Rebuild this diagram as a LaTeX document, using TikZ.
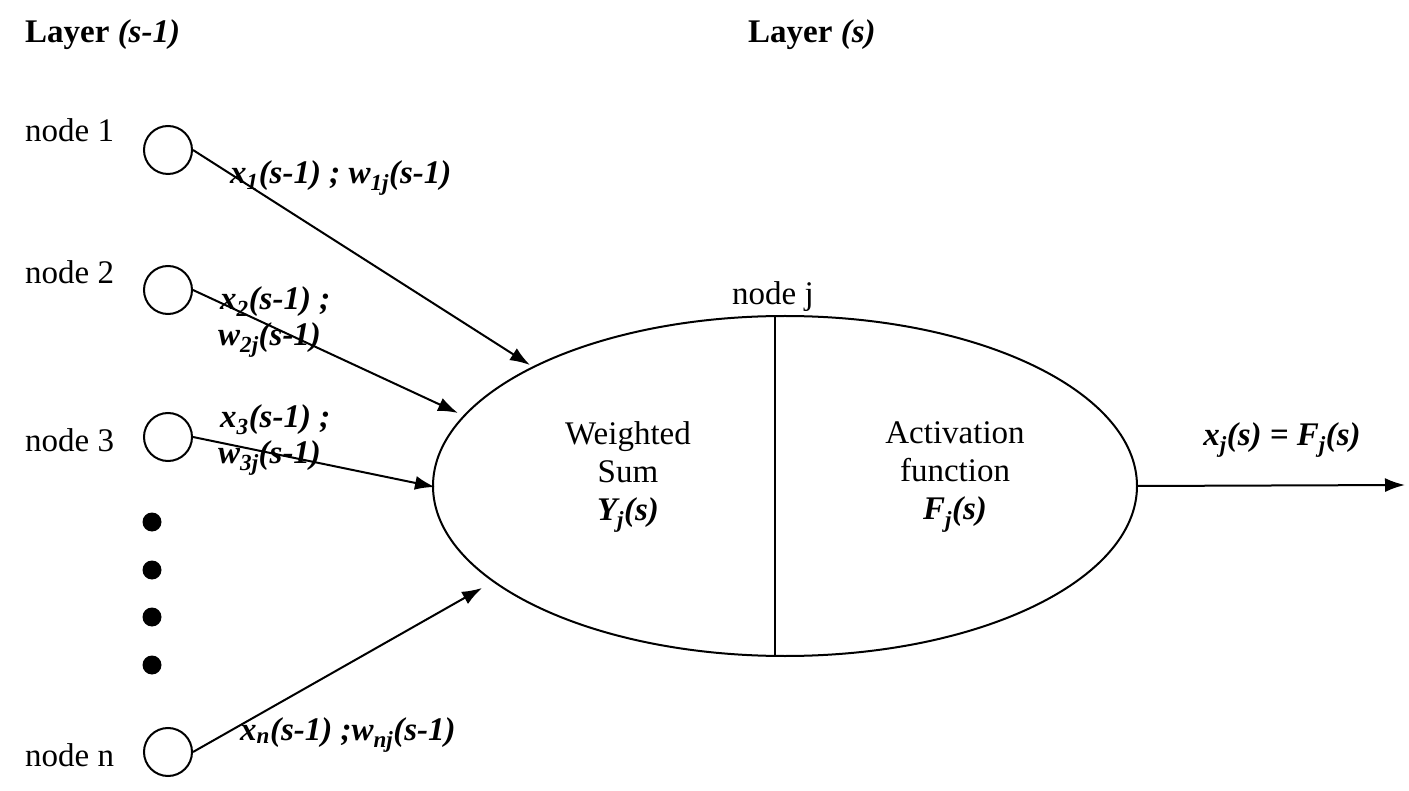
\documentclass[tikz,border=0pt]{standalone}
\usepackage{fontspec}
\setmainfont{Liberation Serif}
\usetikzlibrary{shapes.geometric,arrows.meta}
\begin{document}
\begin{tikzpicture}[x=1pt,y=-1pt,
  txt/.style={font=\fontsize{33}{38}\selectfont,inner sep=0pt},
  lab/.style={font=\fontsize{33}{38}\selectfont\bfseries\itshape,inner sep=0pt},
  circ/.style={circle,draw,line width=2pt,minimum size=48pt,inner sep=0pt},
  dot/.style={circle,fill,minimum size=19pt,inner sep=0pt},
  arr/.style={-{Latex[length=20pt,width=14pt]},line width=2pt}]
\useasboundingbox (0,0) rectangle (1409,791);
\node[lab,anchor=west] (l1) at (25,35) {\textup{Layer} (s-1)};
\node[lab,anchor=west] (l2) at (748,35) {\textup{Layer} (s)};
\node[txt,anchor=west] (t1) at (25,130) {node 1};
\node[txt,anchor=west] (t2) at (25,272) {node 2};
\node[txt,anchor=west] (t3) at (25,440) {node 3};
\node[txt,anchor=west] (tn) at (25,755) {node n};
\node[circ] (c1) at (168,150) {};
\node[circ] (c2) at (168,290) {};
\node[circ] (c3) at (168,437) {};
\node[circ] (cn) at (168,752) {};
\node[dot] (d1) at (152,522) {};
\node[dot] (d2) at (152,570) {};
\node[dot] (d3) at (152,617) {};
\node[dot] (d4) at (152,665) {};
\node[ellipse,draw,line width=2pt,minimum width=704pt,minimum height=340pt] (e) at (785,486) {};
\coordinate (vt) at (775,316);
\coordinate (vb) at (775,657);
\draw[line width=2pt] (vt) -- (vb);
\node[txt] (nj) at (773,297) {node j};
\coordinate (a1) at (530,365);
\coordinate (a2) at (458,413);
\coordinate (a3) at (435,487);
\coordinate (an) at (482,588);
\coordinate (out) at (1405,485);
\draw[arr] (c1.east) -- (a1);
\draw[arr] (c2.east) -- (a2);
\draw[arr] (c3.east) -- (a3);
\draw[arr] (cn.east) -- (an);
\draw[arr] (e.east) -- (out);
\node[lab,anchor=west] (w1) at (230,178) {x\textsubscript{1}(s-1) ; w\textsubscript{1j}(s-1)};
\node[lab,anchor=west] (x2) at (220,302) {x\textsubscript{2}(s-1) ;};
\node[lab,anchor=west] (w2) at (218,340) {w\textsubscript{2j}(s-1)};
\node[lab,anchor=west] (x3) at (220,420) {x\textsubscript{3}(s-1) ;};
\node[lab,anchor=west] (w3) at (218,458) {w\textsubscript{3j}(s-1)};
\node[lab,anchor=west] (wn) at (240,735) {x\textsubscript{n}(s-1) ;w\textsubscript{nj}(s-1)};
\node[lab] (xo) at (1282,440) {x\textsubscript{j}(s) = F\textsubscript{j}(s)};
\node[txt,align=center] (ws) at (628,477) {Weighted\\Sum\\\bfseries\itshape Y\textsubscript{j}(s)};
\node[txt,align=center] (af) at (955,477) {Activation\\function\\\bfseries\itshape F\textsubscript{j}(s)};
\end{tikzpicture}
\end{document}
